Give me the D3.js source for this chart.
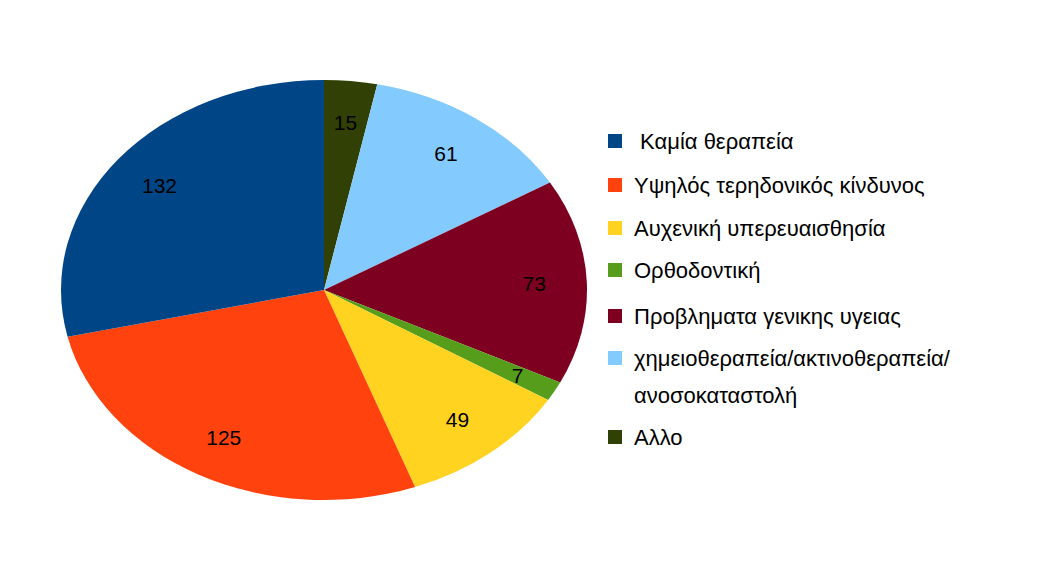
<!DOCTYPE html><html><head><meta charset="utf-8"><script src="https://cdn.jsdelivr.net/npm/d3@7"></script>
<style>body{margin:0;background:#fff}</style></head><body><svg id="c" width="1057" height="582"></svg>
<script>
const categories=[" Καμία θεραπεία","Υψηλός τερηδονικός κίνδυνος","Αυχενική υπερευαισθησία","Ορθοδοντική","Προβληματα γενικης υγειας","χημειοθεραπεία/ακτινοθεραπεία/\nανοσοκαταστολή","Αλλο"];
const values=[132,125,49,7,73,61,15];
const colors=["#004586","#ff420e","#ffd320","#579d1c","#7e0021","#83caff","#314004"];
const svg=d3.select("#c");
const cx=324,cy=290,rx=263,ry=210;
const idx=d3.range(values.length).reverse();
const pie=d3.pie().sort(null).value(i=>values[i]);
const arcs=pie(idx);
const g=svg.append("g").attr("transform",`translate(${cx},${cy}) scale(${rx/100},${ry/100})`);
const arc=d3.arc().innerRadius(0).outerRadius(100);
g.selectAll("path").data(arcs).join("path").attr("d",arc).attr("fill",d=>colors[d.data]);
svg.selectAll("text.v").data(arcs).join("text").attr("class","v")
 .attr("x",d=>{const a=(d.startAngle+d.endAngle)/2;return cx+Math.sin(a)*rx*(values[d.data]<10?0.84:0.8);})
 .attr("y",d=>{const a=(d.startAngle+d.endAngle)/2;return cy-Math.cos(a)*ry*(values[d.data]<10?0.84:0.8);})
 .attr("text-anchor","middle").attr("dominant-baseline","central")
 .style("font-family","Liberation Sans, Arial").style("font-size","21px").text(d=>values[d.data]);
const ys=[141,185,228,270,316,358,437];
categories.forEach((c,i)=>{
 svg.append("rect").attr("x",608).attr("y",ys[i]-7).attr("width",14).attr("height",14).attr("fill",colors[i]);
 c.split("\n").forEach((line,j)=>{
  svg.append("text").attr("x",634).attr("y",ys[i]+j*37).attr("dominant-baseline","central").attr("xml:space","preserve")
   .style("font-family","Liberation Sans, Arial").style("font-size","22px").style("white-space","pre").text(line);
 });
});
</script></body></html>
